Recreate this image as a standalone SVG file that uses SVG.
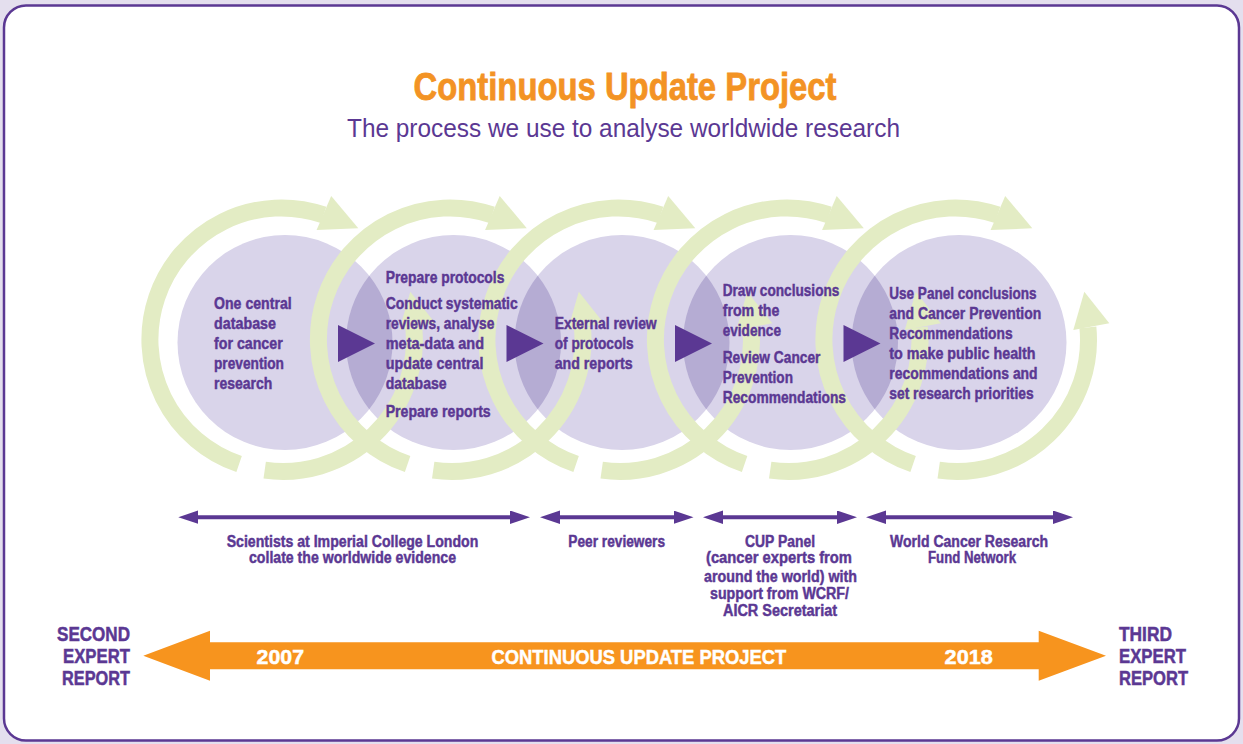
<svg xmlns="http://www.w3.org/2000/svg" xmlns:xlink="http://www.w3.org/1999/xlink" width="1243" height="744" viewBox="0 0 1243 744">
<style>
.t{font-family:"Liberation Sans Narrow","Liberation Sans",Arial,sans-serif;font-weight:bold;fill:#5b3893;stroke:#5b3893;stroke-width:0.45px;font-size:16.5px}
.b{font-family:"Liberation Sans Narrow","Liberation Sans",Arial,sans-serif;font-weight:bold;fill:#5b3893;stroke:#5b3893;stroke-width:0.45px;font-size:16px}
.c{text-anchor:middle}
.big{font-family:"Liberation Sans Narrow","Liberation Sans",Arial,sans-serif;font-weight:bold;fill:#5b3893;stroke:#5b3893;stroke-width:0.5px;font-size:20px}
.w{font-family:"Liberation Sans Narrow","Liberation Sans",Arial,sans-serif;font-weight:bold;fill:#ffffff;stroke:#ffffff;stroke-width:0.5px;font-size:21px}
.band{fill:none;stroke:#e3ecc4;stroke-width:17}
.gf{fill:#e3ecc4}
.circ{fill:#d9d4ea}
.lens{fill:#b5acd3}
.tri{fill:#5b3893}
.dl{stroke:#5b3893;stroke-width:4;fill:none;marker-start:url(#ah);marker-end:url(#ah)}
</style>
<defs>
<marker id="ah" markerUnits="userSpaceOnUse" markerWidth="20" markerHeight="14" refX="10" refY="6.7" orient="auto-start-reverse" viewBox="0 0 20 14">
<path d="M0,0 L20,6.7 L0,13.4 z" fill="#5b3893"/>
</marker>
<g id="ring">
<path class="band" d="M -43.9 124 A 131.5 131.5 0 0 1 40.6 -125.1"/>
<polygon class="gf" points="48.2,-144.1 75.3,-111.7 33.6,-110.0"/>
<path class="band" d="M -18.3 130.2 A 131.5 131.5 0 0 0 130.9 -12.6"/>
<polygon class="gf" points="116.3,-10 127.3,-48.3 152.3,-16.7"/>
</g>
</defs>
<rect x="0" y="0" width="1243" height="744" fill="#e4dfee"/>
<rect x="4" y="5.5" width="1235" height="735" rx="22" ry="22" fill="#ffffff" stroke="#5b3893" stroke-width="2.5"/>
<text x="625" y="100" text-anchor="middle" font-family="'Liberation Sans Narrow','Liberation Sans',Arial,sans-serif" font-weight="bold" font-size="38" fill="#f39324" stroke="#f39324" stroke-width="0.8" textLength="423" lengthAdjust="spacingAndGlyphs">Continuous Update Project</text>
<text x="623.5" y="137" text-anchor="middle" font-family="'Liberation Sans Narrow','Liberation Sans',Arial,sans-serif" font-size="25" fill="#5b3893" textLength="553" lengthAdjust="spacingAndGlyphs">The process we use to analyse worldwide research</text>
<g id="circles">
<circle class="circ" cx="285" cy="342.5" r="107.5"/>
<circle class="circ" cx="453.5" cy="342.5" r="107.5"/>
<circle class="circ" cx="622" cy="342.5" r="107.5"/>
<circle class="circ" cx="790.5" cy="342.5" r="107.5"/>
<circle class="circ" cx="959" cy="342.5" r="107.5"/>
<path class="lens" d="M369.25 275.73 A107.5 107.5 0 0 1 369.25 409.27 A107.5 107.5 0 0 1 369.25 275.73 Z"/>
<path class="lens" d="M537.75 275.73 A107.5 107.5 0 0 1 537.75 409.27 A107.5 107.5 0 0 1 537.75 275.73 Z"/>
<path class="lens" d="M706.25 275.73 A107.5 107.5 0 0 1 706.25 409.27 A107.5 107.5 0 0 1 706.25 275.73 Z"/>
<path class="lens" d="M874.75 275.73 A107.5 107.5 0 0 1 874.75 409.27 A107.5 107.5 0 0 1 874.75 275.73 Z"/>
</g>
<g id="cycles">
<use xlink:href="#ring" href="#ring" x="283" y="340"/>
<use xlink:href="#ring" href="#ring" x="451.5" y="340"/>
<use xlink:href="#ring" href="#ring" x="620" y="340"/>
<use xlink:href="#ring" href="#ring" x="788.5" y="340"/>
<use xlink:href="#ring" href="#ring" x="957" y="340"/>
</g>
<g id="connectors">
<polygon class="tri" points="338,325 375,343.5 338,362"/>
<polygon class="tri" points="506.5,325 543.5,343.5 506.5,362"/>
<polygon class="tri" points="675,325 712,343.5 675,362"/>
<polygon class="tri" points="843.5,325 880.5,343.5 843.5,362"/>
<line class="dl" x1="188.3" y1="517.2" x2="520" y2="517.2"/>
<line class="dl" x1="550" y1="517.2" x2="683.5" y2="517.2"/>
<line class="dl" x1="713" y1="517.2" x2="847" y2="517.2"/>
<line class="dl" x1="876" y1="517.2" x2="1063" y2="517.2"/>
<polygon fill="#f7941e" points="143.3,655.7 210,630.7 210,642.3 1038.7,642.3 1038.7,630.7 1106,655.7 1038.7,680.7 1038.7,669.3 210,669.3 210,680.7"/>
</g>
<g id="node1">
<text class="t" x="214" y="309.3" textLength="77.7" lengthAdjust="spacingAndGlyphs">One central</text>
<text class="t" x="214" y="329.3" textLength="62" lengthAdjust="spacingAndGlyphs">database</text>
<text class="t" x="214" y="349.3" textLength="68.7" lengthAdjust="spacingAndGlyphs">for cancer</text>
<text class="t" x="214" y="369.3" textLength="70" lengthAdjust="spacingAndGlyphs">prevention</text>
<text class="t" x="214" y="389.3" textLength="58.3" lengthAdjust="spacingAndGlyphs">research</text>
</g>
<g id="node2">
<text class="t" x="385.7" y="283.3" textLength="118.7" lengthAdjust="spacingAndGlyphs">Prepare protocols</text>
<text class="t" x="385.7" y="309.3" textLength="132" lengthAdjust="spacingAndGlyphs">Conduct systematic</text>
<text class="t" x="385.7" y="329.3" textLength="108.7" lengthAdjust="spacingAndGlyphs">reviews, analyse</text>
<text class="t" x="385.7" y="349.3" textLength="98.3" lengthAdjust="spacingAndGlyphs">meta-data and</text>
<text class="t" x="385.7" y="369.3" textLength="97.7" lengthAdjust="spacingAndGlyphs">update central</text>
<text class="t" x="385.7" y="389.3" textLength="61" lengthAdjust="spacingAndGlyphs">database</text>
<text class="t" x="385.7" y="416.7" textLength="105" lengthAdjust="spacingAndGlyphs">Prepare reports</text>
</g>
<g id="node3">
<text class="t" x="554.7" y="329.3" textLength="102" lengthAdjust="spacingAndGlyphs">External review</text>
<text class="t" x="554.7" y="349.3" textLength="79" lengthAdjust="spacingAndGlyphs">of protocols</text>
<text class="t" x="554.7" y="369.3" textLength="78" lengthAdjust="spacingAndGlyphs">and reports</text>
</g>
<g id="node4">
<text class="t" x="722.7" y="296" textLength="116.7" lengthAdjust="spacingAndGlyphs">Draw conclusions</text>
<text class="t" x="722.7" y="316" textLength="56.7" lengthAdjust="spacingAndGlyphs">from the</text>
<text class="t" x="722.7" y="336" textLength="58.3" lengthAdjust="spacingAndGlyphs">evidence</text>
<text class="t" x="722.7" y="362.7" textLength="97.7" lengthAdjust="spacingAndGlyphs">Review Cancer</text>
<text class="t" x="722.7" y="382.7" textLength="70.3" lengthAdjust="spacingAndGlyphs">Prevention</text>
<text class="t" x="722.7" y="402.7" textLength="123.3" lengthAdjust="spacingAndGlyphs">Recommendations</text>
</g>
<g id="node5">
<text class="t" x="889.3" y="299" textLength="147.3" lengthAdjust="spacingAndGlyphs">Use Panel conclusions</text>
<text class="t" x="889.3" y="319" textLength="152" lengthAdjust="spacingAndGlyphs">and Cancer Prevention</text>
<text class="t" x="889.3" y="339" textLength="123.3" lengthAdjust="spacingAndGlyphs">Recommendations</text>
<text class="t" x="889.3" y="359" textLength="146.3" lengthAdjust="spacingAndGlyphs">to make public health</text>
<text class="t" x="889.3" y="379" textLength="148.3" lengthAdjust="spacingAndGlyphs">recommendations and</text>
<text class="t" x="889.3" y="399.3" textLength="144.3" lengthAdjust="spacingAndGlyphs">set research priorities</text>
</g>
<g id="label1">
<text class="b c" x="352.5" y="546.7" textLength="251.7" lengthAdjust="spacingAndGlyphs">Scientists at Imperial College London</text>
<text class="b c" x="352.5" y="563.3" textLength="207" lengthAdjust="spacingAndGlyphs">collate the worldwide evidence</text>
</g>
<g id="label2">
<text class="b c" x="616.7" y="546.7" textLength="96.7" lengthAdjust="spacingAndGlyphs">Peer reviewers</text>
</g>
<g id="label3">
<text class="b c" x="780" y="546.7" textLength="70" lengthAdjust="spacingAndGlyphs">CUP Panel</text>
<text class="b c" x="779" y="563.3" textLength="146" lengthAdjust="spacingAndGlyphs">(cancer experts from</text>
<text class="b c" x="780.5" y="581.5" textLength="153" lengthAdjust="spacingAndGlyphs">around the world) with</text>
<text class="b c" x="779.5" y="598.5" textLength="139" lengthAdjust="spacingAndGlyphs">support from WCRF/</text>
<text class="b c" x="780" y="615.5" textLength="114" lengthAdjust="spacingAndGlyphs">AICR Secretariat</text>
</g>
<g id="label4">
<text class="b c" x="969" y="546.7" textLength="158" lengthAdjust="spacingAndGlyphs">World Cancer Research</text>
<text class="b c" x="972" y="563.3" textLength="88" lengthAdjust="spacingAndGlyphs">Fund Network</text>
</g>
<g id="second">
<text class="big" x="130" y="641" text-anchor="end" textLength="73" lengthAdjust="spacingAndGlyphs">SECOND</text>
<text class="big" x="130" y="663.3" text-anchor="end" textLength="67" lengthAdjust="spacingAndGlyphs">EXPERT</text>
<text class="big" x="130" y="685.3" text-anchor="end" textLength="68" lengthAdjust="spacingAndGlyphs">REPORT</text>
</g>
<g id="third">
<text class="big" x="1119" y="641" textLength="53" lengthAdjust="spacingAndGlyphs">THIRD</text>
<text class="big" x="1119" y="663.3" textLength="67" lengthAdjust="spacingAndGlyphs">EXPERT</text>
<text class="big" x="1119" y="685.3" textLength="69" lengthAdjust="spacingAndGlyphs">REPORT</text>
</g>
<g id="timeline-labels">
<text class="w" x="256.6" y="664.3" textLength="47.4" lengthAdjust="spacingAndGlyphs">2007</text>
<text class="w" x="491.5" y="664.3" textLength="294.7" lengthAdjust="spacingAndGlyphs">CONTINUOUS UPDATE PROJECT</text>
<text class="w" x="944.6" y="664.3" textLength="48.2" lengthAdjust="spacingAndGlyphs">2018</text>
</g>
</svg>
